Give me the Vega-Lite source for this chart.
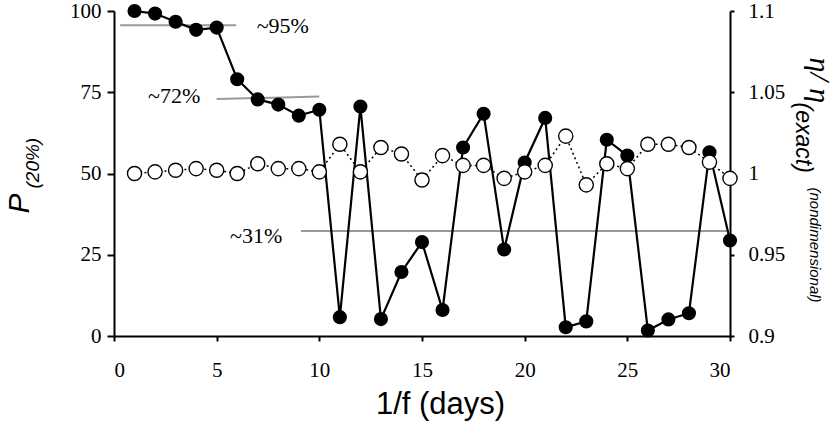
{
  "$schema": "https://vega.github.io/schema/vega-lite/v6.json",
  "width": 616,
  "height": 325,
  "autosize": {"type": "none"},
  "padding": {"left": 114, "top": 11, "right": 106, "bottom": 97},
  "config": {
    "view": {"stroke": null},
    "axis": {
      "grid": false,
      "domainColor": "black",
      "domainWidth": 2,
      "tickColor": "black",
      "tickWidth": 2,
      "labelColor": "black",
      "titleColor": "black",
      "labelFont": "Liberation Serif",
      "labelFontSize": 21
    }
  },
  "datasets": {
    "filled": [
      {"x": 1, "p": 100}, {"x": 2, "p": 99.2}, {"x": 3, "p": 96.7}, {"x": 4, "p": 94.2}, {"x": 5, "p": 94.9},
      {"x": 6, "p": 79}, {"x": 7, "p": 72.8}, {"x": 8, "p": 71.2}, {"x": 9, "p": 67.8}, {"x": 10, "p": 69.6},
      {"x": 11, "p": 5.8}, {"x": 12, "p": 70.6}, {"x": 13, "p": 5.2}, {"x": 14, "p": 19.7}, {"x": 15, "p": 28.9},
      {"x": 16, "p": 8}, {"x": 17, "p": 58}, {"x": 18, "p": 68.4}, {"x": 19, "p": 26.6}, {"x": 20, "p": 53.4},
      {"x": 21, "p": 67.1}, {"x": 22, "p": 2.7}, {"x": 23, "p": 4.5}, {"x": 24, "p": 60.4}, {"x": 25, "p": 55.5},
      {"x": 26, "p": 1.7}, {"x": 27, "p": 5.1}, {"x": 28, "p": 7}, {"x": 29, "p": 56.5}, {"x": 30, "p": 29.4}
    ],
    "open": [
      {"x": 1, "r": 1.0}, {"x": 2, "r": 1.001}, {"x": 3, "r": 1.002}, {"x": 4, "r": 1.003}, {"x": 5, "r": 1.002},
      {"x": 6, "r": 1.0}, {"x": 7, "r": 1.006}, {"x": 8, "r": 1.003}, {"x": 9, "r": 1.003}, {"x": 10, "r": 1.001},
      {"x": 11, "r": 1.018}, {"x": 12, "r": 1.001}, {"x": 13, "r": 1.016}, {"x": 14, "r": 1.012}, {"x": 15, "r": 0.996},
      {"x": 16, "r": 1.011}, {"x": 17, "r": 1.005}, {"x": 18, "r": 1.005}, {"x": 19, "r": 0.997}, {"x": 20, "r": 1.001},
      {"x": 21, "r": 1.005}, {"x": 22, "r": 1.023}, {"x": 23, "r": 0.993}, {"x": 24, "r": 1.006}, {"x": 25, "r": 1.003},
      {"x": 26, "r": 1.018}, {"x": 27, "r": 1.018}, {"x": 28, "r": 1.016}, {"x": 29, "r": 1.007}, {"x": 30, "r": 0.997}
    ],
    "refs": [
      {"kind": "line", "x": 0.3, "x2": 5.95, "y": 95.6, "y2": 95.6},
      {"kind": "line", "x": 5.0, "x2": 10.0, "y": 72.9, "y2": 73.7},
      {"kind": "line", "x": 9.1, "x2": 30, "y": 32.3, "y2": 32.3},
      {"kind": "label", "x": 6.95, "y": 93.3, "label": "~95%"},
      {"kind": "label", "x": 1.66, "y": 71.6, "label": "~72%"},
      {"kind": "label", "x": 5.65, "y": 28.6, "label": "~31%"}
    ]
  },
  "encoding": {
    "x": {
      "field": "x",
      "type": "quantitative",
      "scale": {"domain": [0, 30]},
      "axis": {
        "values": [0, 5, 10, 15, 20, 25, 30],
        "tickSize": 5,
        "labelPadding": 18,
        "title": "1/f (days)",
        "titleFont": "Liberation Sans",
        "titleFontSize": 31,
        "titleFontWeight": "normal",
        "titleX": 326,
        "titleY": 77,
        "titleAlign": "center",
        "titleBaseline": "alphabetic"
      }
    }
  },
  "layer": [
    {
      "data": {"name": "refs"},
      "encoding": {
        "y": {
          "field": "y",
          "type": "quantitative",
          "scale": {"domain": [0, 100]},
          "axis": {
            "orient": "left",
            "domain": false,
            "ticks": false,
            "labels": false,
            "title": "(20%)",
            "titleFont": "Liberation Sans",
            "titleFontStyle": "italic",
            "titleFontWeight": "normal",
            "titleFontSize": 19,
            "titleAngle": -90,
            "titleX": -76,
            "titleY": 177,
            "titleAlign": "left",
            "titleBaseline": "alphabetic"
          }
        }
      },
      "layer": [
        {
          "transform": [{"filter": "datum.kind === 'line'"}],
          "mark": {"type": "rule", "color": "#9a9a9a", "strokeWidth": 2},
          "encoding": {"x2": {"field": "x2"}, "y2": {"field": "y2"}}
        },
        {
          "transform": [{"filter": "datum.kind === 'label'"}],
          "mark": {"type": "text", "font": "Liberation Serif", "fontSize": 22, "align": "left", "baseline": "alphabetic", "color": "black"},
          "encoding": {"text": {"field": "label"}}
        }
      ]
    },
    {
      "data": {"name": "filled"},
      "encoding": {
        "y": {
          "field": "p",
          "type": "quantitative",
          "scale": {"domain": [0, 100]},
          "axis": {
            "orient": "left",
            "values": [0, 25, 50, 75, 100],
            "tickSize": 7,
            "labelPadding": 6,
            "title": "P",
            "titleFont": "Liberation Sans",
            "titleFontStyle": "italic",
            "titleFontWeight": "normal",
            "titleFontSize": 30,
            "titleAngle": -90,
            "titleX": -86,
            "titleY": 202,
            "titleAlign": "left",
            "titleBaseline": "alphabetic"
          }
        }
      },
      "layer": [
        {"mark": {"type": "line", "color": "black", "strokeWidth": 2.2}},
        {"mark": {"type": "point", "filled": true, "color": "black", "size": 200, "opacity": 1}}
      ]
    },
    {
      "data": {"name": "open"},
      "encoding": {
        "y": {
          "field": "r",
          "type": "quantitative",
          "scale": {"domain": [0.9, 1.1]},
          "axis": {
            "orient": "right",
            "values": [0.9, 0.95, 1, 1.05, 1.1],
            "format": "~g",
            "tickSize": 4,
            "labelPadding": 14,
            "title": "η/ η",
            "titleFont": "Liberation Serif",
            "titleFontStyle": "italic",
            "titleFontWeight": "normal",
            "titleFontSize": 30,
            "titleAngle": 90,
            "titleX": 79,
            "titleY": 46,
            "titleAlign": "left",
            "titleBaseline": "alphabetic"
          }
        }
      },
      "layer": [
        {"mark": {"type": "line", "color": "black", "strokeWidth": 1.5, "strokeDash": [2, 3]}},
        {"mark": {"type": "point", "filled": true, "fill": "white", "stroke": "black", "strokeWidth": 1.4, "size": 200, "opacity": 1}}
      ]
    },
    {
      "data": {"name": "open"},
      "mark": {"type": "point", "opacity": 0},
      "encoding": {
        "y": {
          "field": "r",
          "type": "quantitative",
          "scale": {"domain": [0.9, 1.1]},
          "axis": {
            "orient": "right",
            "domain": false,
            "ticks": false,
            "labels": false,
            "title": "(exact)",
            "titleFont": "Liberation Sans",
            "titleFontStyle": "italic",
            "titleFontWeight": "normal",
            "titleFontSize": 23,
            "titleAngle": 90,
            "titleX": 65,
            "titleY": 91,
            "titleAlign": "left",
            "titleBaseline": "alphabetic"
          }
        }
      }
    },
    {
      "data": {"name": "open"},
      "mark": {"type": "point", "opacity": 0},
      "encoding": {
        "y": {
          "field": "r",
          "type": "quantitative",
          "scale": {"domain": [0.9, 1.1]},
          "axis": {
            "orient": "right",
            "domain": false,
            "ticks": false,
            "labels": false,
            "title": "(nondimensional)",
            "titleFont": "Liberation Sans",
            "titleFontStyle": "italic",
            "titleFontWeight": "normal",
            "titleFontSize": 15,
            "titleAngle": 90,
            "titleX": 79,
            "titleY": 176,
            "titleAlign": "left",
            "titleBaseline": "alphabetic"
          }
        }
      }
    }
  ],
  "resolve": {"scale": {"y": "independent"}}
}
